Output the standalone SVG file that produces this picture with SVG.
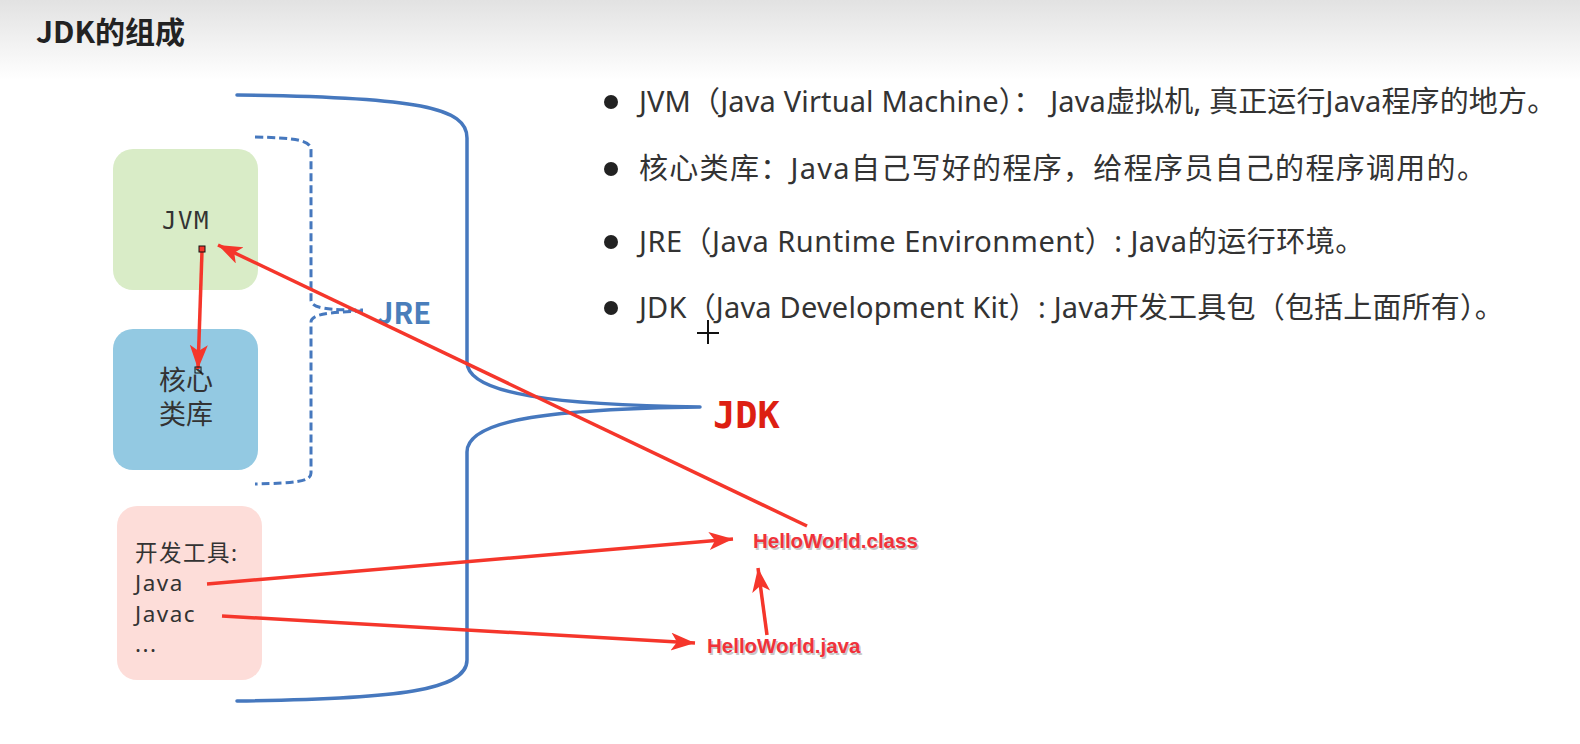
<svg xmlns="http://www.w3.org/2000/svg" width="1580" height="744" viewBox="0 0 1580 744">
<defs>
<linearGradient id="hdr" x1="0" y1="0" x2="0" y2="1">
<stop offset="0" stop-color="#e2e2e2"/>
<stop offset="1" stop-color="#ffffff"/>
</linearGradient>
<marker id="ah" markerUnits="userSpaceOnUse" markerWidth="26" markerHeight="20" refX="24" refY="9" orient="auto">
<path d="M0,0 L24,9 L0,18 L6,9 z" fill="#f5362b"/>
</marker>
<style>
.blue{fill:none;stroke:#4678be;stroke-width:3.5;stroke-linecap:round;stroke-linejoin:round}
.dash{fill:none;stroke:#4678be;stroke-width:3;stroke-dasharray:8 4}
.red{fill:none;stroke:#f5362b;stroke-width:3.5;marker-end:url(#ah)}
.txt{font-family:"Noto Sans","Noto Sans CJK SC",sans-serif;fill:#333}
.bul{font-family:"Noto Sans","Noto Sans CJK SC",sans-serif;font-size:29px;fill:#333}
.hw{font-family:"Liberation Sans",Arial,sans-serif;font-weight:bold;font-size:20.5px}
.hwr{fill:#f0323a}
.hws{fill:#c8c8c8}
.mono{font-family:"DejaVu Sans Mono",monospace}
</style>
</defs>
<rect x="0" y="0" width="1580" height="744" fill="#ffffff"/>
<rect x="0" y="0" width="1580" height="80" fill="url(#hdr)"/>
<text x="36" y="43" font-family="'Noto Sans CJK SC',sans-serif" font-weight="bold" font-size="30" fill="#222">JDK的组成</text>

<g id="jdk-bracket">
<path class="blue" d="M237,95 C420,97 467,108 467,138 L467,362 C467,395 560,405 700,407 C560,409 467,418 467,452 L467,660 C467,690 400,699 237,701"/>
<text x="713" y="428" class="mono" font-weight="bold" font-size="37" fill="#dd1f12">JDK</text>
</g>

<g id="jre-bracket">
<path class="dash" d="M255,137 C295,138 311,140 311,150 L311,300 C311,309 330,310 363,310"/>
<path class="dash" d="M363,311 C330,312 311,314 311,322 L311,473 C311,482 295,483 255,484"/>
<text x="377" y="324" font-family="'Noto Sans CJK SC',sans-serif" font-weight="bold" font-size="29" fill="#4a7ebb">JRE</text>
</g>

<g id="jvm">
<rect x="113" y="149" width="145" height="141" rx="20" fill="#d9ecc7"/>
<text x="186" y="229" class="mono" font-size="24" fill="#333" text-anchor="middle" letter-spacing="1.5">JVM</text>
</g>

<g id="core-lib">
<rect x="113" y="329" width="145" height="141" rx="20" fill="#93c9e2"/>
<text x="186" y="390" class="txt" font-size="27" text-anchor="middle">核心</text>
<text x="186" y="424" class="txt" font-size="27" text-anchor="middle">类库</text>
</g>

<g id="dev-tools">
<rect x="117" y="506" width="145" height="174" rx="20" fill="#fdddd9"/>
<text x="135" y="561" class="txt" font-size="22.5" letter-spacing="1.5">开发工具:</text>
<text x="135" y="591" class="txt" font-size="22.5" letter-spacing="1.5">Java</text>
<text x="135" y="622" class="txt" font-size="22.5" letter-spacing="1.5">Javac</text>
<text x="135" y="652" class="txt" font-size="22.5" letter-spacing="1.5">...</text>
</g>

<g id="hello-class">
<text x="754.5" y="549.5" class="hw hws">HelloWorld.class</text>
<text x="753" y="548" class="hw hwr">HelloWorld.class</text>
</g>
<g id="hello-java">
<text x="708.5" y="654.5" class="hw hws">HelloWorld.java</text>
<text x="707" y="653" class="hw hwr">HelloWorld.java</text>
</g>

<g id="desc">
<circle cx="611" cy="102" r="7" fill="#222"/>
<text x="639" y="112" class="bul" letter-spacing="0.15">JVM（Java Virtual Machine）： Java虚拟机, 真正运行Java程序的地方。</text>
<circle cx="611" cy="169" r="7" fill="#222"/>
<text x="639" y="179" class="bul" letter-spacing="1.3">核心类库：Java自己写好的程序，给程序员自己的程序调用的。</text>
<circle cx="611" cy="242" r="7" fill="#222"/>
<text x="639" y="252" class="bul" letter-spacing="0.5">JRE（Java Runtime Environment）: Java的运行环境。</text>
<circle cx="611" cy="308" r="7" fill="#222"/>
<text x="639" y="318" class="bul" letter-spacing="0.2">JDK（Java Development Kit）: Java开发工具包（包括上面所有）。</text>
</g>

<g id="connectors">
<line class="red" x1="202" y1="251" x2="198" y2="369"/>
<line class="red" x1="807" y1="526" x2="218" y2="245"/>
<line class="red" x1="207" y1="584" x2="733" y2="539"/>
<line class="red" x1="222" y1="616" x2="695" y2="643"/>
<line class="red" x1="767" y1="635" x2="758" y2="568"/>
<rect x="199" y="246" width="6" height="6" fill="#f5362b" stroke="#111" stroke-width="1"/>
<rect x="195" y="367" width="6" height="6" fill="none" stroke="#111" stroke-width="1"/>
</g>

<g id="cursor" stroke="#111" stroke-width="2">
<line x1="708" y1="320" x2="708" y2="344"/>
<line x1="697" y1="333" x2="719" y2="333"/>
</g>
</svg>
